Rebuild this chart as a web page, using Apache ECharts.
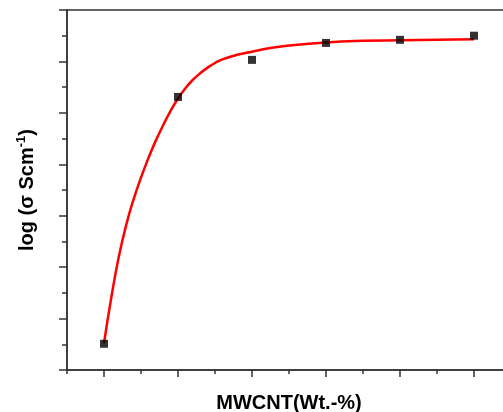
<!DOCTYPE html>
<html>
<head>
<meta charset="utf-8">
<script src="https://cdn.jsdelivr.net/npm/echarts@6/dist/echarts.min.js"></script>
<style>html,body{margin:0;padding:0;background:#fff;}#c{width:503px;height:412px;}</style>
</head>
<body>
<div id="c"></div>
<script>
// measured data points (x: category index of MWCNT loading, y: log conductivity, arbitrary units as in figure)
const pointX = [0, 1, 2, 3, 4, 5];
const pointY = [0.51, 5.31, 6.03, 6.36, 6.42, 6.50];
// fitted curve
const fitX = [0, 0.1, 0.2, 0.3, 0.4, 0.5, 0.6, 0.7, 0.8, 0.9, 1.0, 1.1, 1.2, 1.3, 1.4, 1.5, 1.6, 1.8, 2.0, 2.25, 2.5, 3.0, 3.5, 4.0, 4.5, 5.0];
const fitY = [0.52, 1.42, 2.20, 2.82, 3.32, 3.74, 4.12, 4.46, 4.76, 5.04, 5.28, 5.48, 5.64, 5.77, 5.88, 5.97, 6.04, 6.13, 6.19, 6.26, 6.31, 6.37, 6.40, 6.41, 6.42, 6.43];
const majorXTicks = [0, 1, 2, 3, 4, 5];
const minorXTicks = [-0.5, 0.5, 1.5, 2.5, 3.5, 4.5, 5.5];
const xTitle = 'MWCNT(Wt.-%)';

const chart = echarts.init(document.getElementById('c'), null, {renderer: 'canvas'});
const axisColor = '#333';
chart.setOption({
  animation: false,
  backgroundColor: '#fff',
  grid: {left: 67, right: -8, top: 10, bottom: 42, outerBoundsMode: 'none', containLabel: false,
         show: true, borderColor: axisColor, borderWidth: 1.5, backgroundColor: 'transparent'},
  xAxis: [{
    type: 'value', min: -0.5, max: 5.5, position: 'bottom',
    axisLine: {show: true, onZero: false, lineStyle: {color: axisColor, width: 1.5}},
    axisTick: {show: true, customValues: majorXTicks, length: 7, inside: false, lineStyle: {color: axisColor, width: 1.5}},
    axisLabel: {show: false},
    splitLine: {show: false},
    name: xTitle, nameLocation: 'middle', nameGap: 23,
    nameTextStyle: {fontFamily: 'Liberation Sans, Arial, sans-serif', fontWeight: 'bold', fontSize: 20, color: '#000'}
  }, {
    type: 'value', min: -0.5, max: 5.5, position: 'bottom',
    axisLine: {show: false, onZero: false},
    axisTick: {show: true, customValues: minorXTicks, length: 4, inside: false, lineStyle: {color: axisColor, width: 1.5}},
    axisLabel: {show: false},
    splitLine: {show: false}
  }],
  yAxis: {
    type: 'value', min: 0, max: 7, interval: 1,
    axisLine: {show: true, onZero: false, lineStyle: {color: axisColor, width: 1.5}},
    axisTick: {show: true, length: 8, inside: false, lineStyle: {color: axisColor, width: 1.5}},
    minorTick: {show: true, splitNumber: 2, length: 5, lineStyle: {color: axisColor, width: 1.5}},
    axisLabel: {show: false},
    splitLine: {show: false},
    name: '{a|log (σ Scm}{s|-1}{a|)}', nameLocation: 'middle', nameGap: 28,
    nameTextStyle: {
      color: '#000',
      rich: {
        a: {fontFamily: 'Liberation Sans, Arial, sans-serif', fontWeight: 'bold', fontSize: 20, lineHeight: 24, color: '#000'},
        s: {fontFamily: 'Liberation Sans, Arial, sans-serif', fontWeight: 'bold', fontSize: 13, lineHeight: 24, verticalAlign: 'top', color: '#000'}
      }
    }
  },
  series: [{
    type: 'line', xAxisIndex: 0,
    data: fitX.map((x, i) => [x, fitY[i]]),
    smooth: true, showSymbol: false, symbol: 'none',
    lineStyle: {color: '#ff0000', width: 2.5},
    z: 2
  }, {
    type: 'scatter', xAxisIndex: 0,
    data: pointX.map((x, i) => [x, pointY[i]]),
    symbol: 'rect', symbolSize: 8,
    itemStyle: {color: '#000'},
    z: 3
  }]
});
</script>
</body>
</html>
